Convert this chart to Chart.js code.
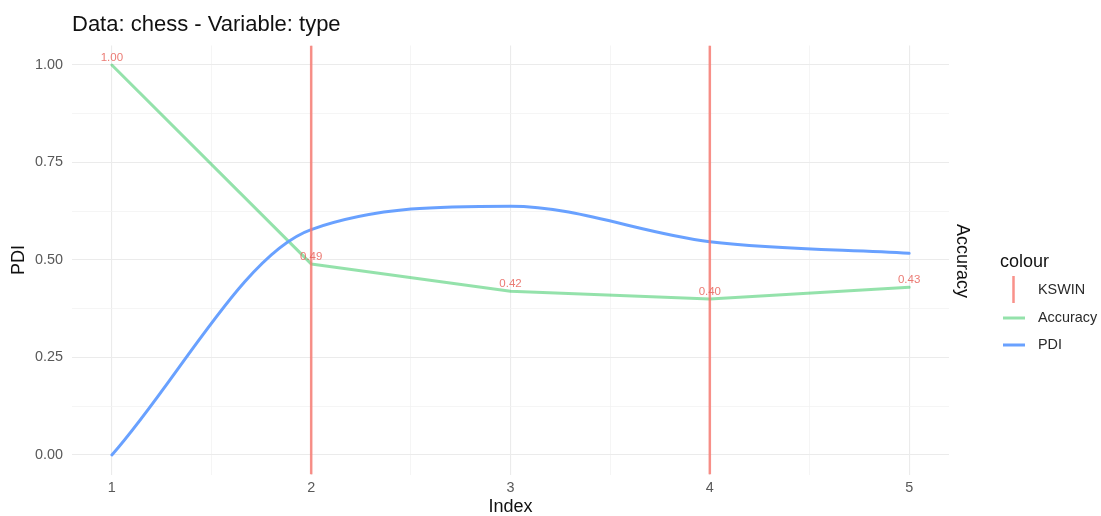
<!DOCTYPE html>
<html>
<head>
<meta charset="utf-8">
<title>Data: chess - Variable: type</title>
<script src="https://cdn.jsdelivr.net/npm/chart.js@4.4.1/dist/chart.umd.min.js"></script>
<style>
  html, body { margin: 0; padding: 0; background: #fff; }
  #wrap { position: relative; width: 1101px; height: 516px; }
</style>
</head>
<body>
<div id="wrap"><canvas id="chart" width="1101" height="516"></canvas></div>
<script>
const indexValues = [1, 2, 3, 4, 5];
const accuracyValues = [1.00, 0.49, 0.42, 0.40, 0.43];
const pdiValues = [0.00, 0.578, 0.638, 0.547, 0.517];
const kswinDrifts = [2, 4];

const xBreaks = [1, 2, 3, 4, 5];
const xMinorBreaks = [1.5, 2.5, 3.5, 4.5];
const yBreaks = [0, 0.25, 0.5, 0.75, 1];
const yMinorBreaks = [0.125, 0.375, 0.625, 0.875];

const X_MIN = 0.8, X_MAX = 5.2, Y_MIN = -0.05, Y_MAX = 1.05;

const RED = 'rgba(248, 118, 109, 0.8)';
const GREEN = 'rgba(0, 186, 56, 0.42)';
const BLUE = 'rgba(97, 156, 255, 0.95)';
const FONT = '"Liberation Sans", Arial, Helvetica, sans-serif';

Chart.defaults.font.family = FONT;

const toPoints = (ys) => indexValues.map((x, i) => ({ x, y: ys[i] }));
const withMinor = (major, minor) => [...major, ...minor].sort((a, b) => a - b).map((value) => ({ value }));
const isMajor = (list, v) => list.some((b) => Math.abs(b - v) < 1e-9);

const kswinSets = kswinDrifts.map((d) => ({
  label: 'KSWIN',
  data: [{ x: d, y: Y_MIN }, { x: d, y: Y_MAX }],
  borderColor: RED,
  borderWidth: 2.5,
  pointRadius: 0,
  order: 0,
}));

// titles, value labels, right-hand legend
const decorations = {
  id: 'decorations',
  afterDatasetsDraw(chart) {
    const { ctx } = chart;
    const meta = chart.getDatasetMeta(1);
    ctx.save();
    ctx.font = `11.5px ${FONT}`;
    ctx.fillStyle = 'rgba(232, 100, 92, 0.85)';
    ctx.textAlign = 'center';
    ctx.textBaseline = 'middle';
    meta.data.forEach((pt, i) => {
      ctx.fillText(accuracyValues[i].toFixed(2), pt.x, pt.y - 7);
    });
    ctx.restore();
  },
  afterDraw(chart) {
    const { ctx, chartArea } = chart;
    ctx.save();
    ctx.fillStyle = '#111';
    ctx.textBaseline = 'middle';
    ctx.textAlign = 'left';
    ctx.font = `22px ${FONT}`;
    ctx.fillText('Data: chess - Variable: type', chartArea.left, 25);

    // secondary axis title
    ctx.save();
    ctx.translate(962, 261);
    ctx.rotate(Math.PI / 2);
    ctx.textAlign = 'center';
    ctx.font = `18px ${FONT}`;
    ctx.fillText('Accuracy', 0, 0);
    ctx.restore();

    // legend
    ctx.font = `18px ${FONT}`;
    ctx.fillText('colour', 1000, 262);
    ctx.lineCap = 'butt';
    ctx.strokeStyle = RED;
    ctx.lineWidth = 2.5;
    ctx.beginPath(); ctx.moveTo(1013.5, 276); ctx.lineTo(1013.5, 303); ctx.stroke();
    ctx.strokeStyle = GREEN;
    ctx.lineWidth = 3;
    ctx.beginPath(); ctx.moveTo(1003, 318); ctx.lineTo(1025, 318); ctx.stroke();
    ctx.strokeStyle = BLUE;
    ctx.beginPath(); ctx.moveTo(1003, 345); ctx.lineTo(1025, 345); ctx.stroke();
    ctx.fillStyle = '#2a2a2a';
    ctx.font = `14.4px ${FONT}`;
    ctx.fillText('KSWIN', 1038, 290);
    ctx.fillText('Accuracy', 1038, 318);
    ctx.fillText('PDI', 1038, 345);
    ctx.restore();
  },
};

new Chart(document.getElementById('chart'), {
  type: 'line',
  data: {
    datasets: [
      ...kswinSets.slice(0, 1),
      {
        label: 'Accuracy',
        data: toPoints(accuracyValues),
        borderColor: GREEN,
        borderWidth: 3,
        tension: 0,
        pointRadius: 0,
        borderJoinStyle: 'round',
        borderCapStyle: 'round',
        order: 2,
      },
      {
        label: 'PDI',
        data: toPoints(pdiValues),
        borderColor: BLUE,
        borderWidth: 3,
        cubicInterpolationMode: 'monotone',
        pointRadius: 0,
        borderCapStyle: 'round',
        order: 1,
      },
      ...kswinSets.slice(1),
    ],
  },
  options: {
    responsive: false,
    animation: false,
    devicePixelRatio: 1,
    layout: { padding: { top: 45.5, right: 152, bottom: 0, left: 0 } },
    plugins: {
      legend: { display: false },
      tooltip: { enabled: false },
    },
    scales: {
      x: {
        type: 'linear',
        min: X_MIN,
        max: X_MAX,
        afterBuildTicks: (s) => { s.ticks = withMinor(xBreaks, xMinorBreaks); },
        afterFit: (s) => { s.height = 41.5; },
        border: { display: false },
        grid: {
          drawTicks: false,
          color: (c) => (isMajor(xBreaks, c.tick.value) ? '#ebebeb' : '#f3f3f3'),
          lineWidth: (c) => (isMajor(xBreaks, c.tick.value) ? 1.1 : 0.8),
        },
        ticks: {
          autoSkip: false,
          maxRotation: 0,
          padding: 5,
          color: '#595959',
          font: { size: 14.4 },
          callback: (v) => (isMajor(xBreaks, v) ? String(v) : ''),
        },
        title: {
          display: true,
          text: 'Index',
          color: '#111',
          font: { size: 18, lineHeight: 1 },
          padding: { top: 0, bottom: 0 },
        },
      },
      y: {
        type: 'linear',
        min: Y_MIN,
        max: Y_MAX,
        afterBuildTicks: (s) => { s.ticks = withMinor(yBreaks, yMinorBreaks); },
        afterFit: (s) => { s.width = 72; },
        border: { display: false },
        grid: {
          drawTicks: false,
          color: (c) => (isMajor(yBreaks, c.tick.value) ? '#ebebeb' : '#f3f3f3'),
          lineWidth: (c) => (isMajor(yBreaks, c.tick.value) ? 1.1 : 0.8),
        },
        ticks: {
          autoSkip: false,
          padding: 9,
          color: '#595959',
          font: { size: 14.4 },
          callback: (v) => (isMajor(yBreaks, v) ? v.toFixed(2) : ''),
        },
        title: {
          display: true,
          text: 'PDI',
          color: '#111',
          font: { size: 18, lineHeight: 1 },
          padding: { top: 10.5, bottom: 0 },
        },
      },
    },
  },
  plugins: [decorations],
});
</script>
</body>
</html>
